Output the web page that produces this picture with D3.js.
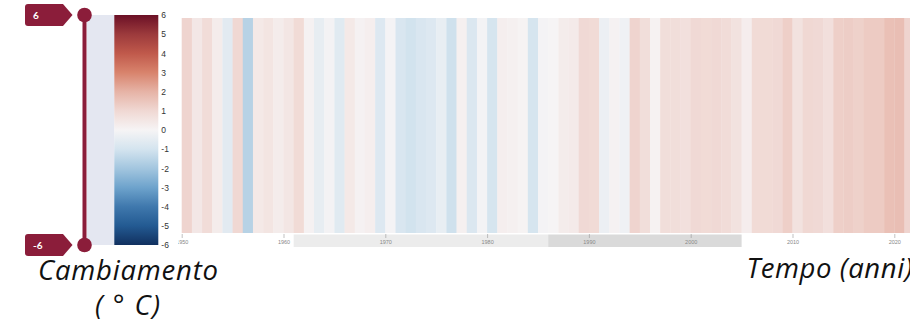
<!DOCTYPE html>
<html>
<head>
<meta charset="utf-8">
<script src="https://cdn.jsdelivr.net/npm/d3@7"></script>
<style>
  body { margin: 0; background: #fff; overflow: hidden; }
  .graphTicks text { font-family: "Liberation Sans", Arial, sans-serif; }
  .big-label { font-family: "Open Sans", Lato, sans-serif; font-style: italic; fill: #111; }
</style>
</head>
<body>
<div class="vis"></div>
<script>
// years shown as stripes and their anomaly values (deg C)
var years = d3.range(1950, 2022);
var anomalies = [
  1.1, 0.45, 0.85, 0.3, -0.6, 1.0, -1.6, 0.4, 0.55, 0.3,
  0.5, 0.9, 0.1, -0.45, -0.1, -0.65, 0.4, 0.1, 0.2, -0.75,
  -0.05, -0.85, -1.05, -0.85, -0.75, -0.4, -1.1, 0.15, -0.8, -0.08,
  -0.95, 0.2, 0.15, 0.05, -0.95, -0.05, 0.0, 0.3, 0.35, 0.95,
  0.9, -0.3, 0.1, -0.2, 1.1, 0.8, 0.08, 0.8, 0.8, 0.7,
  0.95, 0.9, 0.95, 0.85, 0.65, 0.25, 0.9, 0.9, 0.95, 1.25,
  0.65, 1.0, 0.95, 0.75, 1.25, 1.3, 1.2, 1.35, 1.35, 1.65,
  1.7, 1.1
];
var tickYears = [1950, 1960, 1970, 1980, 1990, 2000, 2010, 2020];
var legendTicks = [6, 5, 4, 3, 2, 1, 0, -1, -2, -3, -4, -5, -6];
var sliderRange = [-6, 6];
// shaded periods below the time axis
var periodStart = [1961, 1986];
var periodEnd = [1986, 2005];
var periodShade = ["#ececec", "#dadada"];
var axisTitles = ["Cambiamento", "( \u00B0 C)", "Tempo (anni)"];

// colour ramp, value -> colour
var rampValues = [6, 5, 4, 3, 2, 1, 0, -1, -2, -3, -4, -5, -6];
var rampColours = ["#6b1026", "#9c3a3c", "#c0594b", "#d8836c", "#e6b3a6", "#f0d8d3", "#f6f4f5",
                   "#d4e4ef", "#a3c6df", "#6ea3cc", "#3f78ad", "#235a92", "#11305f"];

(function () {
    var svgWidth = 910;
    var svgHeight = 321;
    var crimson = "#8b1d3a";

    var svg = d3.select('.vis')
        .append("svg")
            .attr('width', svgWidth)
            .attr('height', svgHeight);

    var data = years.map(function (y, i) { return { year: y, value: anomalies[i] }; });

    var color = d3.scaleLinear()
        .domain(rampValues)
        .range(rampColours)
        .clamp(true);

    // time scale
    var xScale = d3.scaleLinear()
        .domain([1950, 2020])
        .range([181.7, 894.3]);

    var stripeTop = 18, stripeBottom = 233;

    var defs = svg.append("defs");
    defs.append("clipPath").attr("id", "plotClip")
        .append("rect")
        .attr("x", 178).attr("y", 0)
        .attr("width", svgWidth - 178).attr("height", svgHeight);

    var plot = svg.append("g").attr("clip-path", "url(#plotClip)");

    // shaded periods
    plot.append("g")
        .selectAll("rect")
        .data(periodStart)
        .enter().append("rect")
            .attr("x", function (d) { return xScale(d); })
            .attr("y", 234.5)
            .attr("width", function (d, i) { return xScale(periodEnd[i]) - xScale(d); })
            .attr("height", 12.5)
            .attr("fill", function (d, i) { return periodShade[i]; });

    // stripes
    plot.append("g")
        .selectAll("rect")
        .data(data)
        .enter().append("rect")
            .attr("x", function (d) { return xScale(d.year); })
            .attr("y", stripeTop)
            .attr("width", function (d) { return xScale(d.year + 1) - xScale(d.year) + 0.3; })
            .attr("height", stripeBottom - stripeTop)
            .attr("fill", function (d) { return color(d.value); });

    var xAxis = d3.axisBottom(xScale)
        .tickValues(tickYears)
        .tickFormat(function (d) { return String(d); })
        .tickSize(4)
        .tickPadding(2);

    var callxAxis = plot.append('g')
        .attr('class', 'graphTicks')
        .attr('transform', `translate(0, ${stripeBottom + 1})`)
        .call(xAxis);
    callxAxis.select(".domain").remove();
    callxAxis.selectAll(".tick line").attr("stroke", "#999").attr("stroke-width", 0.6);
    callxAxis.selectAll(".tick text").attr("font-size", 5.5).attr("fill", "#888");

    // legend
    var legendTop = 15, legendBottom = 245;
    var yLegend = d3.scaleLinear()
        .domain([-6, 6])
        .range([legendBottom, legendTop]);

    var grad = defs.append("linearGradient")
        .attr("id", "legendGrad")
        .attr("x1", 0).attr("y1", 0).attr("x2", 0).attr("y2", 1);
    grad.selectAll("stop")
        .data(rampValues)
        .enter().append("stop")
            .attr("offset", function (d) { return (yLegend(d) - legendTop) / (legendBottom - legendTop); })
            .attr("stop-color", function (d) { return color(d); });

    // slider track background
    svg.append("rect")
        .attr("x", 87).attr("y", legendTop)
        .attr("width", 27.5).attr("height", legendBottom - legendTop)
        .attr("fill", "#e4e7f1");

    svg.append("rect")
        .attr("x", 114.3).attr("y", legendTop)
        .attr("width", 44).attr("height", legendBottom - legendTop)
        .attr("fill", "url(#legendGrad)");

    var yAxis = d3.axisRight(yLegend)
        .tickValues(legendTicks)
        .tickFormat(function (d) { return String(d); })
        .tickSize(0)
        .tickPadding(3);
    var callyAxis = svg.append('g')
        .attr('class', 'graphTicks')
        .attr('transform', 'translate(158.3, 0)')
        .call(yAxis);
    callyAxis.select(".domain").remove();
    callyAxis.selectAll(".tick text").attr("font-size", 8.5).attr("fill", "#333");

    // range slider
    var slider = svg.append("g");
    slider.append("line")
        .attr("x1", 84.5).attr("x2", 84.5)
        .attr("y1", yLegend(sliderRange[0])).attr("y2", yLegend(sliderRange[1]))
        .attr("stroke", crimson).attr("stroke-width", 4);
    slider.selectAll("circle")
        .data(sliderRange)
        .enter().append("circle")
            .attr("cx", 84.5)
            .attr("cy", function (d) { return yLegend(d); })
            .attr("r", 7.3)
            .attr("fill", crimson);

    var flags = slider.selectAll("g.flag")
        .data(sliderRange)
        .enter().append("g")
            .attr("class", "flag")
            .attr("transform", function (d) { return `translate(0, ${yLegend(d)})`; });
    flags.append("path")
        .attr("d", "M28,-11 L63,-11 L72.5,0 L63,11 L28,11 Q25,11 25,8 L25,-8 Q25,-11 28,-11 Z")
        .attr("fill", crimson);
    flags.append("text")
        .attr("x", 33)
        .attr("y", 3.5)
        .attr("fill", "#fff")
        .attr("font-family", "Lato, 'Open Sans', sans-serif")
        .attr("font-weight", "bold")
        .attr("font-size", 10)
        .text(function (d) { return d; });

    // axis titles
    svg.append("text")
        .attr("class", "big-label")
        .attr("x", 38).attr("y", 280)
        .attr("font-size", 27.5)
        .attr("textLength", 180)
        .attr("lengthAdjust", "spacing")
        .text(axisTitles[0]);
    svg.append("text")
        .attr("class", "big-label")
        .attr("x", 95).attr("y", 315)
        .attr("font-size", 27.5)
        .attr("textLength", 65)
        .attr("lengthAdjust", "spacing")
        .attr("xml:space", "preserve")
        .style("white-space", "pre")
        .text(axisTitles[1]);
    svg.append("text")
        .attr("class", "big-label")
        .attr("x", 746.5).attr("y", 278)
        .attr("font-size", 27.5)
        .attr("textLength", 166)
        .attr("lengthAdjust", "spacing")
        .text(axisTitles[2]);
} (d3));
</script>
</body>
</html>
